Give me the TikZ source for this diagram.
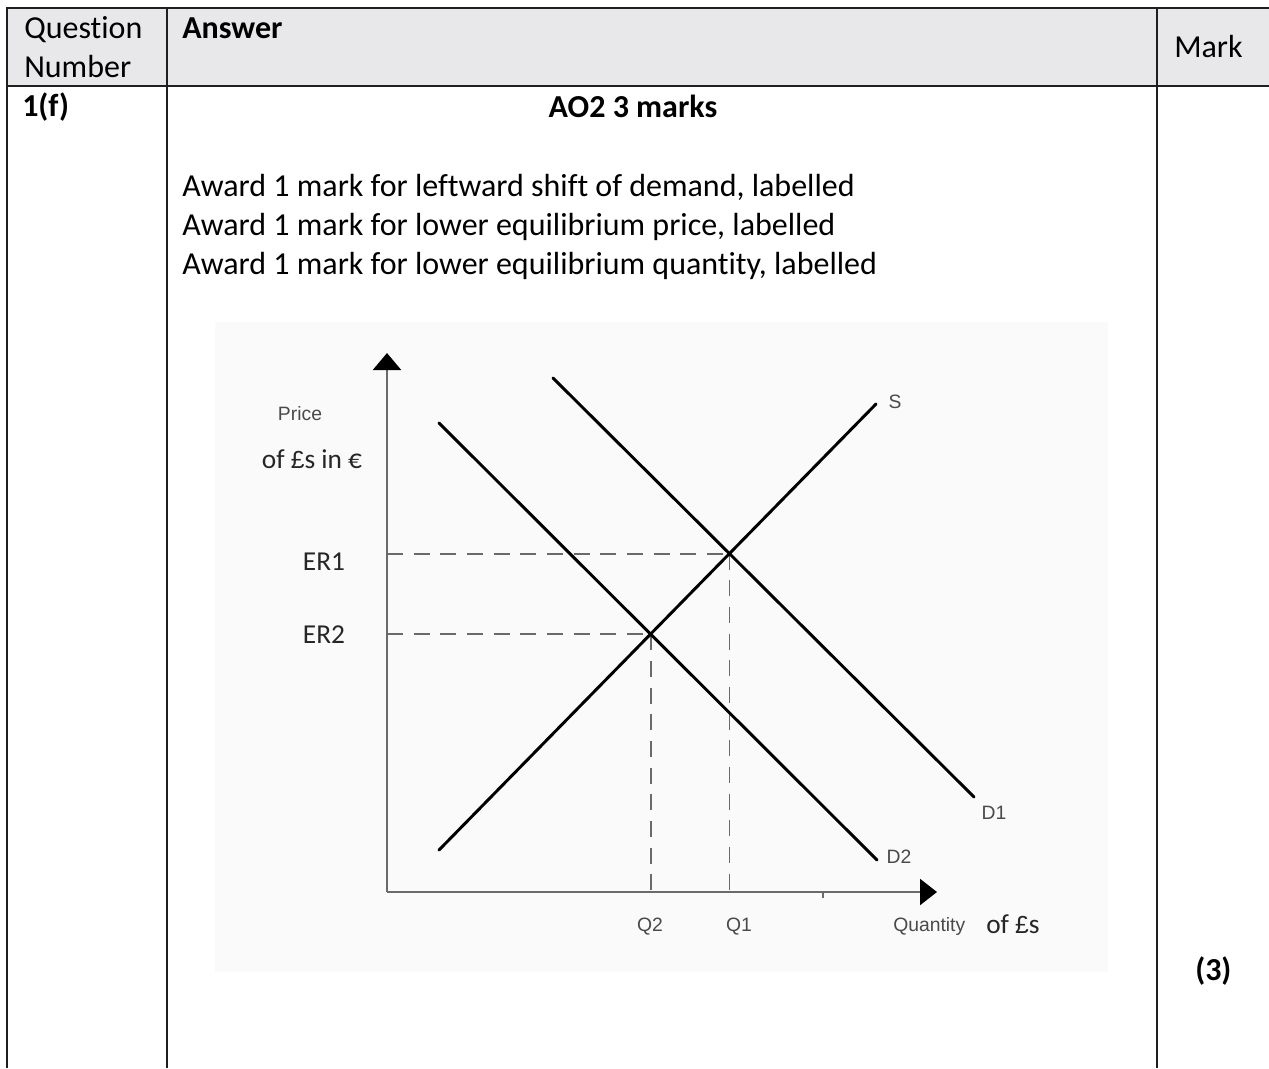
\documentclass[tikz,border=0pt]{standalone}
\usepackage{fontspec}
\setmainfont{Carlito}[Ligatures={NoCommon,NoRare}]
\newfontfamily\helv{Liberation Sans}
\usetikzlibrary{arrows.meta}
\definecolor{hdr}{HTML}{E8E8EA}
\definecolor{bg}{HTML}{FAFAFA}
\definecolor{axisgray}{HTML}{6A6A6A}
\definecolor{lblgray}{HTML}{4A4A4A}
\newcommand{\pnd}{{\helv\fontsize{18.5}{22}\selectfont £}}
\tikzset{
  tbl/.style={line width=1.9pt, draw=black!88},
  txt/.style={anchor=base west, inner sep=0pt, font=\fontsize{24}{29}\selectfont},
  btxt/.style={anchor=base west, inner sep=0pt, font=\fontsize{24}{29}\selectfont\bfseries},
  curve/.style={line width=2.2pt, line cap=round},
  guide/.style={line width=1.3pt, draw=axisgray, dash pattern=on 12pt off 8pt},
  axisline/.style={line width=1.6pt, draw=axisgray},
  small/.style={inner sep=0pt, text=lblgray, font=\helv\fontsize{14.5}{17}\selectfont},
  mid/.style={inner sep=0pt, text=black!85, font=\fontsize{20.5}{24}\selectfont},
}
\begin{document}
\begin{tikzpicture}[x=0.75pt, y=-0.75pt]
\useasboundingbox (0,0) rectangle (1269,1068);
\fill[white] (0,0) rectangle (1269,1068);
\fill[hdr] (7,8) rectangle (1269,86);
\fill[bg] (215,322) rectangle (1108,972);
% table rules
\draw[tbl] (7,8) -- (1269,8);
\draw[tbl] (7,86) -- (1269,86);
\draw[tbl] (7,7) -- (7,1068);
\draw[tbl] (167,7) -- (167,1068);
\draw[tbl] (1157,7) -- (1157,1068);
% table text
\node[txt] (q) at (24,38) {Question};
\node[txt] (n) at (24,77) {Number};
\node[btxt] (ans) at (182,38) {Answer};
\node[txt] (mark) at (1174,57) {Mark};
\node[btxt] (qn) at (22,116) {1(f)};
\node[btxt, anchor=base] (ao) at (633,117) {AO2 3 marks};
\node[txt] (l1) at (182,196) {Award 1 mark for leftward shift of demand, labelled};
\node[txt] (l2) at (182,235) {Award 1 mark for lower equilibrium price, labelled};
\node[txt] (l3) at (182,274) {Award 1 mark for lower equilibrium quantity, labelled};
\node[btxt] (m3) at (1195,980) {(3)};
% graph
\coordinate (O) at (387,892);
\coordinate (ytop) at (387,353);
\coordinate (xend) at (937,892);
\coordinate (S0) at (439,850);
\coordinate (S1) at (876,404);
\coordinate (D1a) at (553,378);
\coordinate (D1b) at (974,797);
\coordinate (D2a) at (439,423);
\coordinate (D2b) at (877,860);
\coordinate (E1) at (intersection of S0--S1 and D1a--D1b);
\coordinate (E2) at (intersection of S0--S1 and D2a--D2b);
\draw[guide] (O |- E1) -- (E1);
\draw[guide] (E1) -- (E1 |- O);
\draw[guide] (O |- E2) -- (E2);
\draw[guide] (E2) -- (E2 |- O);
\draw[axisline, -{Triangle[length=12.75pt,width=21pt,color=black]}] (O) -- (ytop);
\draw[axisline, -{Triangle[length=12.75pt,width=19.5pt,color=black]}] (O) -- (xend);
\coordinate (tk) at (823,892);
\draw[axisline] (tk) -- ++(0,6);
\draw[curve] (S0) -- (S1);
\draw[curve] (D1a) -- (D1b);
\draw[curve] (D2a) -- (D2b);
% graph labels
\node[small, anchor=base] (price) at (300,420) {Price};
\node[mid, anchor=base] (ofs) at (312,468) {of \pnd s in €};
\node[mid, anchor=base] (er1) at (324,570) {ER1};
\node[mid, anchor=base] (er2) at (324,643) {ER2};
\node[small] (q2) at (650,927) {Q2};
\node[small] (q1) at (739,927) {Q1};
\node[small, anchor=base west] (qty) at (893,931) {Quantity};
\node[mid, anchor=base west] (of2) at (986,933) {of \pnd s};
\node[small] (d1) at (994,813) {D1};
\node[small] (d2) at (899,857) {D2};
\node[small] (s) at (895,402) {S};
\end{tikzpicture}
\end{document}
